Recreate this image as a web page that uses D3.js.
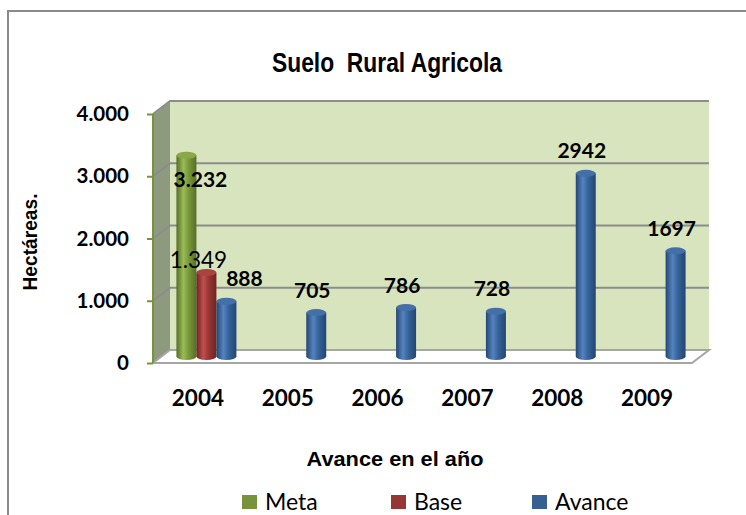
<!DOCTYPE html>
<html>
<head>
<meta charset="utf-8">
<script src="https://cdn.jsdelivr.net/npm/d3@7"></script>
<style>
  html, body { margin: 0; padding: 0; background: #fff; }
  svg { display: block; }
</style>
</head>
<body>
<svg id="chart" width="746" height="515"></svg>
<script>
// ---- data ----
const years = ["2004", "2005", "2006", "2007", "2008", "2009"];
const seriesNames = ["Meta", "Base", "Avance"];
const metaValues = [3232, null, null, null, null, null];
const baseValues = [1349, null, null, null, null, null];
const avanceValues = [888, 705, 786, 728, 2942, 1697];
const yTickValues = [0, 1000, 2000, 3000, 4000];
const titleText = "Suelo  Rural Agricola";
const yAxisTitle = "Hectáreas.";
const xAxisTitle = "Avance en el año";

// ---- styling ----
const colors = {
  Meta:   { dark: "#566e26", mid: "#7a9a3a", light: "#9abb58", top: "#8aa84a" },
  Base:   { dark: "#6e2422", mid: "#9a3634", light: "#c0504d", top: "#a84340" },
  Avance: { dark: "#234673", mid: "#36649a", light: "#5583bf", top: "#4370a8" }
};
const legendColors = { Meta: "#77933c", Base: "#953735", Avance: "#376092" };
const labelFont = "Lato, 'Open Sans', sans-serif";
const headFont = "'Liberation Sans', Arial, sans-serif";

const svg = d3.select("#chart");

// outer frame
svg.append("rect")
  .attr("x", 8).attr("y", 11).attr("width", 760).attr("height", 530)
  .attr("fill", "none").attr("stroke", "#8a8a8a").attr("stroke-width", 2);

// ---- scales (front plane) ----
const depth = { dx: 17, dy: -13 };
const x0 = d3.scaleBand().domain(years).range([153, 692]).paddingInner(0).paddingOuter(0);
const x1 = d3.scaleBand().domain(seriesNames).range([-30, 30]);
const y = d3.scaleLinear().domain([0, 4000]).range([363, 114]);
const yMax = 4000;

const [xL, xR] = x0.range();
const { dx, dy } = depth;

// back wall
svg.append("rect")
  .attr("x", xL + dx).attr("y", y(yMax) + dy)
  .attr("width", xR - xL).attr("height", y(0) - y(yMax))
  .attr("fill", "#d7e4bd");

// side wall
svg.append("path")
  .attr("d", `M${xL},${y(0)} L${xL},${y(yMax)} L${xL + dx},${y(yMax) + dy} L${xL + dx},${y(0) + dy} Z`)
  .attr("fill", "#8e9a7e");
svg.append("line")
  .attr("x1", xL).attr("y1", y(yMax)).attr("x2", xL + dx).attr("y2", y(yMax) + dy)
  .attr("stroke", "#c9d1bb").attr("stroke-width", 1.5);

// gridlines on back and side walls
const grid = svg.append("g");
yTickValues.filter(t => t > 0).forEach(t => {
  grid.append("path")
    .attr("d", `M${xL},${y(t)} L${xL + dx},${y(t) + dy} L${xR + dx},${y(t) + dy}`)
    .attr("fill", "none").attr("stroke", "#8c8c8c").attr("stroke-width", 2);
});

// floor
svg.append("path")
  .attr("d", `M${xL},${y(0)} L${xL + dx},${y(0) + dy} L${xR + dx},${y(0) + dy} L${xR},${y(0)} Z`)
  .attr("fill", "#ffffff").attr("stroke", "#a6a6a6").attr("stroke-width", 2);

// y axis (front edge) with ticks
const yAxisG = svg.append("g").attr("transform", `translate(${xL},0)`)
  .call(d3.axisLeft(y).tickValues(yTickValues).tickSize(6).tickFormat(""));
yAxisG.select(".domain").attr("stroke", "#77933c").attr("stroke-width", 2).attr("d", `M0,${y(yMax)}V${y(0)}`);
yAxisG.selectAll(".tick line").attr("stroke", "#77933c").attr("stroke-width", 2);

const dotLocale = d3.formatLocale({ decimal: ",", thousands: ".", grouping: [3], currency: ["", ""] });
const fmtDot = dotLocale.format(",d");
const fmtPlain = d3.format("d");

svg.append("g").selectAll("text").data(yTickValues).join("text")
  .attr("x", 129).attr("y", d => y(d) + 7)
  .attr("text-anchor", "end")
  .attr("font-family", labelFont).attr("font-weight", "bold").attr("font-size", 20.5)
  .attr("fill", "#000")
  .text(d => fmtDot(d));

// ---- cylinders ----
const defs = svg.append("defs");
seriesNames.forEach(s => {
  const g = defs.append("linearGradient").attr("id", "grad-" + s)
    .attr("x1", "0%").attr("x2", "100%").attr("y1", "0%").attr("y2", "0%");
  g.append("stop").attr("offset", "0%").attr("stop-color", colors[s].dark);
  g.append("stop").attr("offset", "35%").attr("stop-color", colors[s].light);
  g.append("stop").attr("offset", "60%").attr("stop-color", colors[s].mid);
  g.append("stop").attr("offset", "100%").attr("stop-color", colors[s].dark);
});

const seriesValues = { Meta: metaValues, Base: baseValues, Avance: avanceValues };
const bars = [];
seriesNames.forEach(s => {
  seriesValues[s].forEach((v, i) => {
    if (v !== null) bars.push({ series: s, year: years[i], value: v });
  });
});

// bars stand at mid depth of the floor
const midDx = dx / 2, midDy = dy / 2;
const ry = 3.5;
const barG = svg.append("g");
bars.forEach(b => {
  const w = x1.bandwidth();
  const cx = x0(b.year) + x0.bandwidth() / 2 + x1(b.series) + w / 2 + midDx;
  const yBase = y(0) + midDy;
  const yTop = y(b.value) + midDy;
  b.cx = cx; b.yTop = yTop;
  const g = barG.append("g");
  g.append("ellipse").attr("cx", cx).attr("cy", yBase).attr("rx", w / 2).attr("ry", ry)
    .attr("fill", `url(#grad-${b.series})`);
  g.append("rect").attr("x", cx - w / 2).attr("y", yTop).attr("width", w).attr("height", yBase - yTop)
    .attr("fill", `url(#grad-${b.series})`);
  g.append("ellipse").attr("cx", cx).attr("cy", yTop).attr("rx", w / 2).attr("ry", ry)
    .attr("fill", colors[b.series].top);
});

// ---- data labels ----
const labelOffsets = {
  Meta:   { dx: 14, dy: 32, bold: true, size: 21 },
  Base:   { dx: -8, dy: -5, bold: false, size: 22.5 },
  Avance: { dx: -4, dy: -15, bold: true, size: 21 }
};
const labelG = svg.append("g");
bars.forEach(b => {
  const o = labelOffsets[b.series];
  let ldx = o.dx;
  // the first Avance label sits beside its neighbours
  if (b.series === "Avance" && b.year === years[0]) ldx = 18;
  labelG.append("text")
    .attr("x", b.cx + ldx).attr("y", b.yTop + o.dy)
    .attr("text-anchor", "middle")
    .attr("font-family", labelFont)
    .attr("font-weight", o.bold ? "bold" : "normal")
    .attr("font-size", o.size)
    .attr("fill", "#000")
    .text(b.series === "Avance" ? fmtPlain(b.value) : fmtDot(b.value));
});

// ---- category labels ----
svg.append("g").selectAll("text").data(years).join("text")
  .attr("x", d => x0(d) + x0.bandwidth() / 2)
  .attr("y", 406)
  .attr("text-anchor", "middle")
  .attr("font-family", labelFont).attr("font-weight", "bold").attr("font-size", 22.5)
  .attr("fill", "#000")
  .text(d => d);

// ---- titles ----
svg.append("text")
  .attr("x", 387).attr("y", 72).attr("text-anchor", "middle")
  .attr("font-family", headFont).attr("font-weight", "bold").attr("font-size", 27)
  .attr("textLength", 230).attr("lengthAdjust", "spacingAndGlyphs")
  .attr("xml:space", "preserve")
  .text(titleText);

svg.append("text")
  .attr("transform", "translate(37,242) rotate(-90)")
  .attr("text-anchor", "middle")
  .attr("font-family", headFont).attr("font-weight", "bold").attr("font-size", 21)
  .attr("textLength", 97).attr("lengthAdjust", "spacingAndGlyphs")
  .text(yAxisTitle);

svg.append("text")
  .attr("x", 395).attr("y", 466).attr("text-anchor", "middle")
  .attr("font-family", headFont).attr("font-weight", "bold").attr("font-size", 20.5)
  .attr("textLength", 177).attr("lengthAdjust", "spacingAndGlyphs")
  .text(xAxisTitle);

// ---- legend ----
const legendX = [242, 391, 532];
const legend = svg.append("g");
seriesNames.forEach((s, i) => {
  legend.append("rect").attr("x", legendX[i]).attr("y", 495).attr("width", 15).attr("height", 14)
    .attr("fill", legendColors[s]);
  legend.append("text").attr("x", legendX[i] + 23).attr("y", 510)
    .attr("font-family", labelFont).attr("font-size", 23).attr("fill", "#000")
    .text(s);
});
</script>
</body>
</html>
